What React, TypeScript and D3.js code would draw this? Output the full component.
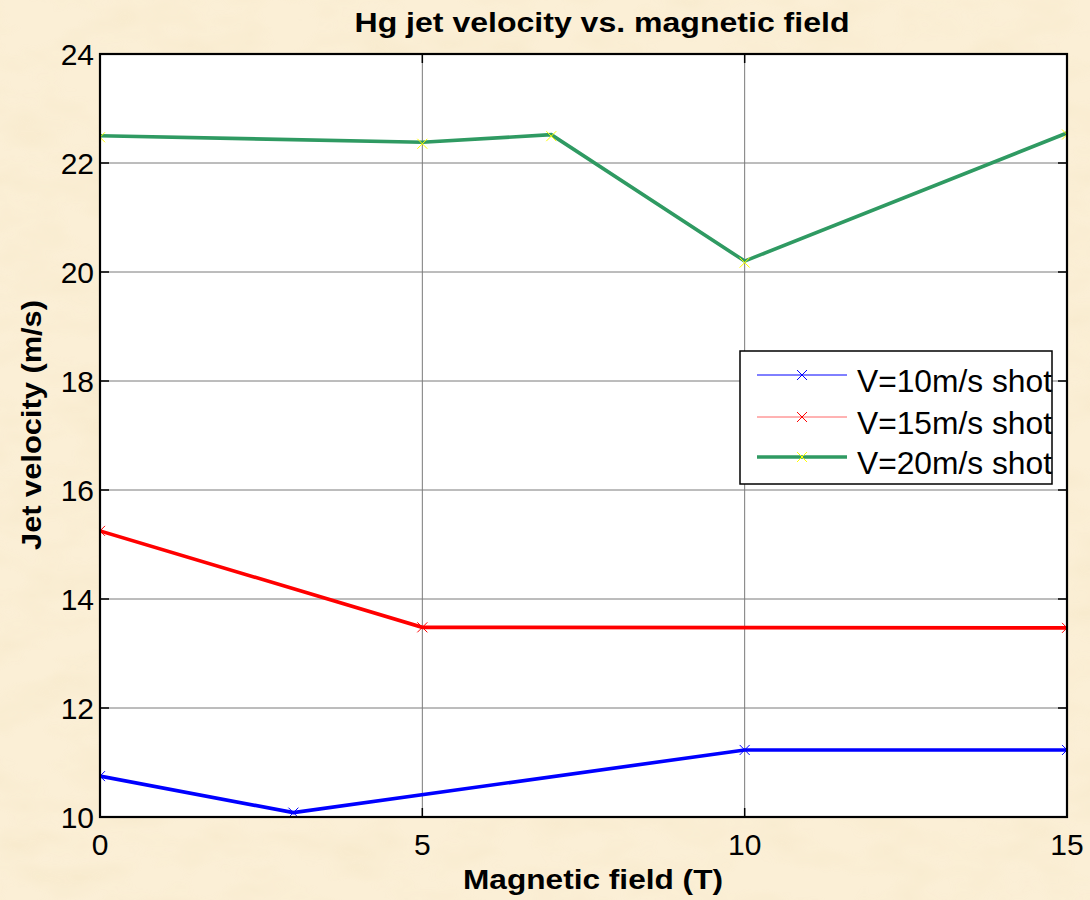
import React from "react";
import * as d3 from "d3";

const W = 1090;
const H = 900;

const v10x = [0, 3, 10, 15];
const v10y = [10.75, 10.08, 11.23, 11.23];
const v15x = [0, 5, 15];
const v15y = [15.25, 13.48, 13.47];
const v20x = [0, 5, 7, 10, 15];
const v20y = [22.5, 22.38, 22.52, 20.2, 22.55];
const xTicks = [0, 5, 10, 15];
const yTicks = [10, 12, 14, 16, 18, 20, 22, 24];
const seriesNames = ["V=10m/s shot", "V=15m/s shot", "V=20m/s shot"];
const lineColors = ["#0000ff", "#ff0000", "#2f9a62"];
const markerColors = ["#0000ff", "#ff0000", "#ffff00"];

const FONT = "'Liberation Sans', Arial, sans-serif";

export default function App() {
  const left = 100, right = 1067, top = 54, bottom = 817;
  const x = d3.scaleLinear().domain([0, 15]).range([left, right]);
  const y = d3.scaleLinear().domain([10, 24]).range([bottom, top]);
  const line = d3.line<[number, number]>().x((d) => x(d[0])).y((d) => y(d[1]));

  const series = [
    v10x.map((v, i) => [v, v10y[i]] as [number, number]),
    v15x.map((v, i) => [v, v15y[i]] as [number, number]),
    v20x.map((v, i) => [v, v20y[i]] as [number, number]),
  ];

  const mk = 5;
  const cross = (cx: number, cy: number, color: string, key: string) => (
    <path
      key={key}
      d={`M${cx - mk},${cy - mk}L${cx + mk},${cy + mk}M${cx - mk},${cy + mk}L${cx + mk},${cy - mk}`}
      stroke={color}
      strokeWidth={1}
      fill="none"
    />
  );

  const legX = 740, legY = 351, legW = 312, legH = 133;
  const rowY = [375, 417, 457];

  return (
    <svg
      width={W}
      height={H}
      style={{ position: "absolute", left: 0, top: 0, display: "block" }}
      fontFamily={FONT}
    >
      <defs>
        <filter id="paper" x="0" y="0" width="100%" height="100%">
          <feTurbulence type="fractalNoise" baseFrequency="0.015 0.03" numOctaves={3} seed={4} result="n" />
          <feColorMatrix
            in="n"
            type="matrix"
            values="0 0 0 0 0.94  0 0 0 0 0.83  0 0 0 0 0.62  0 0 0 2.2 -0.85"
          />
        </filter>
        <clipPath id="plotclip">
          <rect x={left} y={top} width={right - left} height={bottom - top} />
        </clipPath>
      </defs>
      <rect x={0} y={0} width={W} height={H} fill="#fbefd6" />
      <rect x={0} y={0} width={W} height={H} filter="url(#paper)" opacity={0.9} />

      <rect x={left} y={top} width={right - left} height={bottom - top} fill="#ffffff" />

      {/* grid */}
      {xTicks.slice(1, -1).map((t) => (
        <line key={"gx" + t} x1={x(t)} x2={x(t)} y1={top} y2={bottom} stroke="#7a7a7a" strokeWidth={1} />
      ))}
      {yTicks.slice(1, -1).map((t) => (
        <line key={"gy" + t} x1={left} x2={right} y1={y(t)} y2={y(t)} stroke="#7a7a7a" strokeWidth={1} />
      ))}

      {/* ticks */}
      {yTicks.map((t) => (
        <g key={"ty" + t}>
          <line x1={left} x2={left + 9} y1={y(t)} y2={y(t)} stroke="#000" strokeWidth={1.5} />
          <line x1={right - 9} x2={right} y1={y(t)} y2={y(t)} stroke="#000" strokeWidth={1.5} />
          <text x={94} y={y(t) + 11} textAnchor="end" fontSize={30} fill="#000">
            {t}
          </text>
        </g>
      ))}
      {xTicks.map((t) => (
        <g key={"tx" + t}>
          <line x1={x(t)} x2={x(t)} y1={bottom} y2={bottom - 9} stroke="#000" strokeWidth={1.5} />
          <line x1={x(t)} x2={x(t)} y1={top} y2={top + 9} stroke="#000" strokeWidth={1.5} />
          <text x={x(t)} y={855} textAnchor="middle" fontSize={30} fill="#000">
            {t}
          </text>
        </g>
      ))}

      {/* data */}
      <g clipPath="url(#plotclip)">
        {series.map((s, i) => (
          <path key={"l" + i} d={line(s) || ""} fill="none" stroke={lineColors[i]} strokeWidth={3.6} strokeLinejoin="miter" />
        ))}
        {series.map((s, i) =>
          s.map((p, j) => cross(x(p[0]), y(p[1]) + (i === 2 ? 1.5 : 0), markerColors[i], `m${i}-${j}`))
        )}
      </g>

      {/* axes box */}
      <rect x={left} y={top} width={right - left} height={bottom - top} fill="none" stroke="#000" strokeWidth={2.2} />

      {/* legend */}
      <rect x={legX} y={legY} width={legW} height={legH} fill="#ffffff" stroke="#000" strokeWidth={1.5} />
      {seriesNames.map((name, i) => (
        <g key={"lg" + i}>
          <line
            x1={757}
            x2={847}
            y1={rowY[i]}
            y2={rowY[i]}
            stroke={lineColors[i]}
            strokeWidth={i === 2 ? 3.6 : 1}
            opacity={i === 1 ? 0.6 : 1}
          />
          {cross(802, rowY[i], markerColors[i], "lm" + i)}
          <text x={857} y={rowY[i] + 17} fontSize={31} fill="#000" textLength={195} lengthAdjust="spacingAndGlyphs">
            {name}
          </text>
        </g>
      ))}

      {/* titles */}
      <text x={602} y={32} textAnchor="middle" fontSize={27} fontWeight="bold" fill="#000" textLength={495} lengthAdjust="spacingAndGlyphs">
        Hg jet velocity vs. magnetic field
      </text>
      <text x={593} y={889} textAnchor="middle" fontSize={28} fontWeight="bold" fill="#000" textLength={260} lengthAdjust="spacingAndGlyphs">
        Magnetic field (T)
      </text>
      <text
        transform={`translate(41,425) rotate(-90)`}
        textAnchor="middle"
        fontSize={28}
        fontWeight="bold"
        fill="#000"
        textLength={250}
        lengthAdjust="spacingAndGlyphs"
      >
        Jet velocity (m/s)
      </text>
    </svg>
  );
}
